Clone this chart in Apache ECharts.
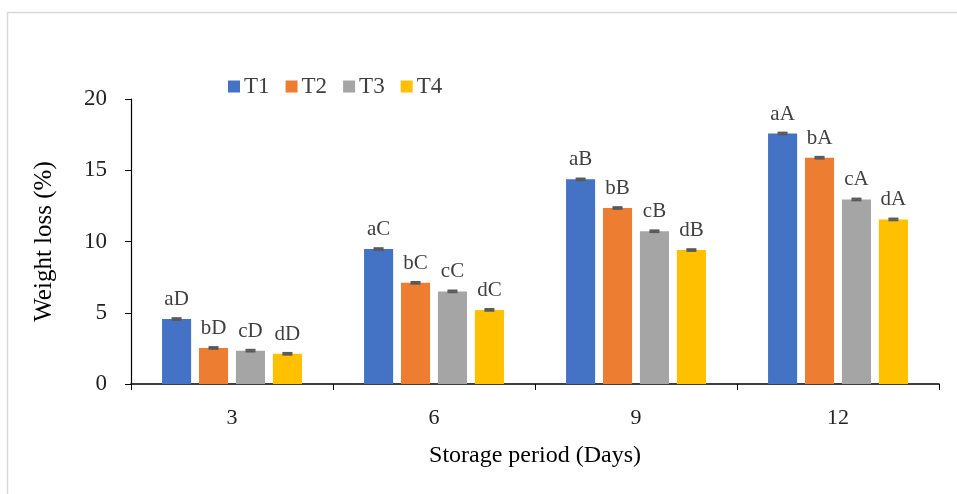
<!DOCTYPE html>
<html><head><meta charset="utf-8">
<script src="https://cdn.jsdelivr.net/npm/echarts@6/dist/echarts.min.js"></script>
<style>html,body{margin:0;padding:0;background:#fff}#c{width:957px;height:494px}</style>
</head><body><div id="c"></div>
<script>
var categories = ['3', '6', '9', '12'];
var seriesNames = ['T1', 'T2', 'T3', 'T4'];
var T1 = [4.56, 9.47, 14.36, 17.58];
var T2 = [2.53, 7.10, 12.35, 15.88];
var T3 = [2.34, 6.50, 10.72, 12.95];
var T4 = [2.12, 5.20, 9.40, 11.55];
var errT1 = [0.06, 0.06, 0.06, 0.06];
var errT2 = [0.06, 0.06, 0.06, 0.06];
var errT3 = [0.06, 0.06, 0.06, 0.06];
var errT4 = [0.06, 0.06, 0.06, 0.06];
var lettersT1 = ['aD', 'aC', 'aB', 'aA'];
var lettersT2 = ['bD', 'bC', 'bB', 'bA'];
var lettersT3 = ['cD', 'cC', 'cB', 'cA'];
var lettersT4 = ['dD', 'dC', 'dB', 'dA'];
var yTicks = [0, 5, 10, 15, 20];

var values = [T1, T2, T3, T4];
var errs = [errT1, errT2, errT3, errT4];
var letters = [lettersT1, lettersT2, lettersT3, lettersT4];
var colors = ['#4472C4', '#ED7D31', '#A5A5A5', '#FFC000'];
var font = 'Liberation Serif';
var BW = 0.144, GAP = 0.27;

var chart = echarts.init(document.getElementById('c'));
var series = [];
seriesNames.forEach(function (name, i) {
  series.push({
    name: name, type: 'bar', data: values[i],
    barWidth: (BW * 100) + '%', barGap: (GAP * 100) + '%',
    itemStyle: { color: colors[i] },
    label: {
      show: true, position: 'top', distance: 9,
      fontFamily: font, fontSize: 21, color: '#404040',
      formatter: function (p) { return letters[i][p.dataIndex]; }
    }
  });
});
seriesNames.forEach(function (name, i) {
  series.push({
    type: 'custom', name: name + ' err',
    data: values[i].map(function (v, k) { return [k, v - errs[i][k], v + errs[i][k]]; }),
    encode: { x: 0, y: [1, 2] },
    z: 5,
    renderItem: function (params, api) {
      var k = api.value(0);
      var lo = api.coord([k, api.value(1)]);
      var hi = api.coord([k, api.value(2)]);
      var band = api.size([1, 0])[0];
      var bw = band * BW, gap = bw * GAP;
      var total = 4 * bw + 3 * gap;
      var x = lo[0] - total / 2 + i * (bw + gap) + bw / 2;
      var hw = 5;
      var st = { stroke: '#595959', lineWidth: 2 };
      return { type: 'group', children: [
        { type: 'line', shape: { x1: x, y1: lo[1], x2: x, y2: hi[1] }, style: st },
        { type: 'line', shape: { x1: x - hw, y1: hi[1], x2: x + hw, y2: hi[1] }, style: st },
        { type: 'line', shape: { x1: x - hw, y1: lo[1], x2: x + hw, y2: lo[1] }, style: st }
      ]};
    }
  });
});

chart.setOption({
  animation: false,
  textStyle: { fontFamily: font },
  graphic: [{ type: 'rect', left: 5, top: 10, shape: { width: 1000, height: 520 },
    style: { fill: 'none', stroke: '#d9d9d9', lineWidth: 1.5 }, silent: true }],
  legend: {
    data: seriesNames, left: 223, top: 70, icon: 'rect', itemWidth: 12, itemHeight: 12, itemGap: 16,
    textStyle: { fontFamily: font, fontSize: 23, color: '#404040', padding: [0, 0, 0, -1] }
  },
  grid: { left: 131, right: 18, top: 99, bottom: 110, containLabel: false },
  xAxis: {
    type: 'category', data: categories,
    name: 'Storage period (Days)', nameLocation: 'middle', nameGap: 60,
    nameTextStyle: { fontFamily: font, fontSize: 24, color: '#000' },
    axisLine: { lineStyle: { color: '#000', width: 1.5 } },
    axisTick: { show: true, length: 6, lineStyle: { color: '#000' } },
    axisLabel: { fontFamily: font, fontSize: 22, color: '#222', margin: 23 }
  },
  yAxis: {
    type: 'value', min: yTicks[0], max: yTicks[yTicks.length - 1], interval: 5,
    name: 'Weight loss (%)', nameLocation: 'middle', nameGap: 74,
    nameTextStyle: { fontFamily: font, fontSize: 25, color: '#000' },
    axisLine: { show: true, lineStyle: { color: '#000', width: 1.2 } },
    axisTick: { show: true, length: 6, lineStyle: { color: '#000' } },
    splitLine: { show: false },
    axisLabel: { fontFamily: font, fontSize: 23, color: '#222', margin: 24 }
  },
  series: series
});
</script></body></html>
